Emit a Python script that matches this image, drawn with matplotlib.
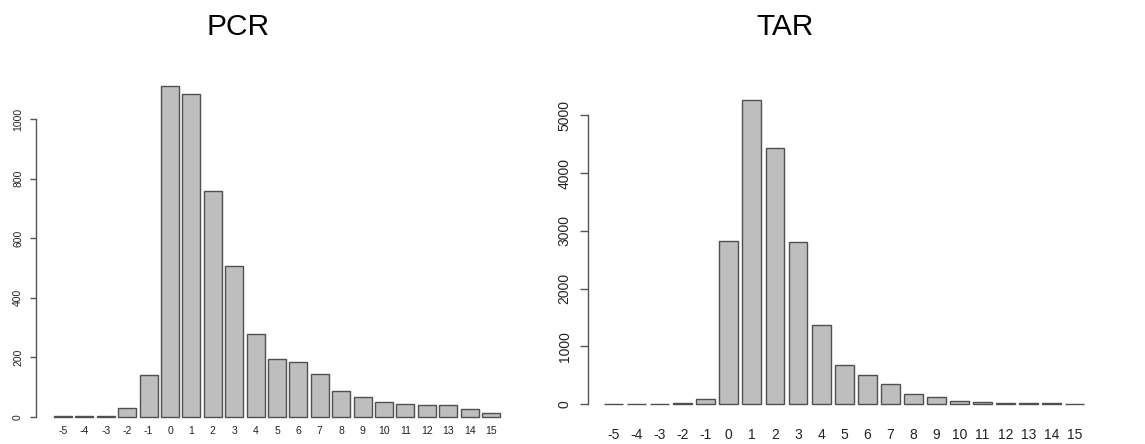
import matplotlib
matplotlib.use("Agg")
import matplotlib.pyplot as plt

categories = ["-5", "-4", "-3", "-2", "-1", "0", "1", "2", "3", "4", "5",
              "6", "7", "8", "9", "10", "11", "12", "13", "14", "15"]
pcr_values = [2, 4, 1, 29, 139, 1111, 1085, 759, 505, 277, 194,
              185, 142, 87, 67, 49, 43, 38, 40, 25, 13]
tar_values = [2, 2, 2, 15, 92, 2823, 5260, 4428, 2806, 1368, 675,
              502, 346, 168, 121, 57, 29, 12, 12, 25, 2]
pcr_yticks = [0, 200, 400, 600, 800, 1000]
tar_yticks = [0, 1000, 2000, 3000, 4000, 5000]

plt.rcParams['font.family'] = ['Liberation Sans', 'DejaVu Sans']

W, H = 1145, 444
fig = plt.figure(figsize=(W / 100, H / 100), dpi=100)


def px_axes(left, right, top, bottom):
    return fig.add_axes([left / W, 1 - bottom / H, (right - left) / W, (bottom - top) / H])


def draw(ax, values, yticks, xlim, ylim, bw, xfs, yfs, xpad, ypad, ticklen):
    xs = list(range(len(values)))
    ax.bar(xs, values, width=bw, color='#BEBEBE', edgecolor='#505050', linewidth=1.0)
    ax.set_xlim(*xlim)
    ax.set_ylim(*ylim)
    for s in ['top', 'right', 'bottom']:
        ax.spines[s].set_visible(False)
    ax.spines['left'].set_bounds(yticks[0], yticks[-1])
    ax.spines['left'].set_color('#555555')
    ax.spines['left'].set_linewidth(1.0)
    ax.set_yticks(yticks)
    ax.set_yticklabels([str(t) for t in yticks])
    ax.set_xticks(xs)
    ax.set_xticklabels(categories)
    ax.tick_params(axis='x', length=0, labelsize=xfs, pad=xpad, labelcolor='#222222')
    ax.tick_params(axis='y', length=ticklen, width=1.0, color='#555555',
                   labelsize=yfs, pad=ypad, labelcolor='#222222', labelrotation=90)
    for lab in ax.get_yticklabels():
        lab.set_va('center')


ax1 = px_axes(36, 510, 80, 425)
draw(ax1, pcr_values, pcr_yticks, (-1.262, 20.888), (-27.9, 1131), 0.84,
     7.5, 7.5, 1.0, 5.0, 4.3)

ax2 = px_axes(588, 1100, 80, 425)
draw(ax2, tar_values, tar_yticks, (-1.105, 21.09), (-363.7, 5611), 0.82,
     10, 10, 2.5, 6.0, 5.8)

fig.text(238 / W, 1 - 27 / H, 'PCR', ha='center', va='center', fontsize=21.5)
fig.text(785 / W, 1 - 27 / H, 'TAR', ha='center', va='center', fontsize=21.5)

fig.savefig('out.png', dpi=100)
